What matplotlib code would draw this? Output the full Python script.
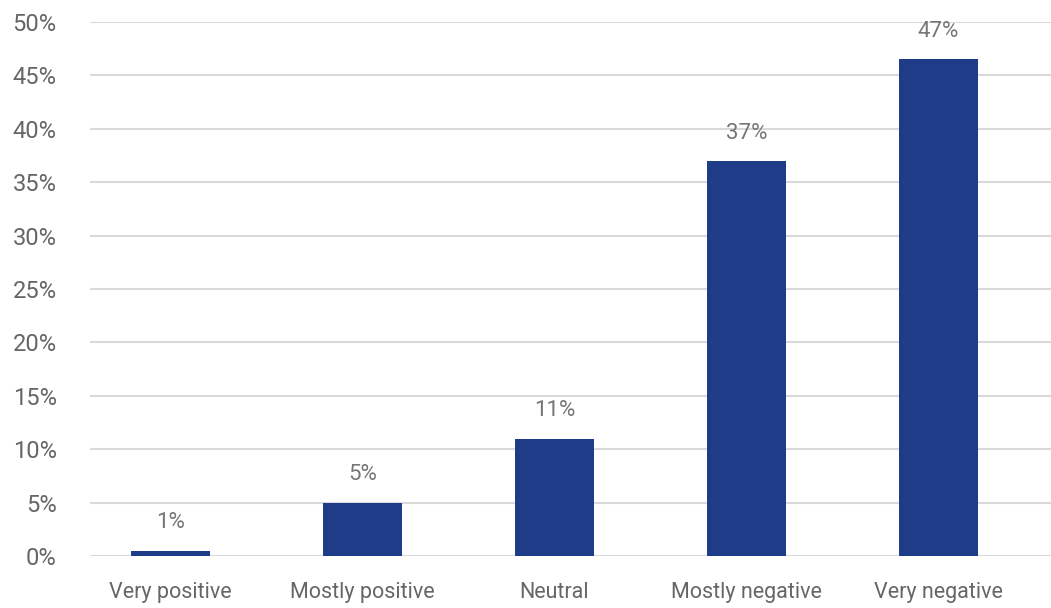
import matplotlib
matplotlib.use("Agg")
import matplotlib.pyplot as plt
from matplotlib.ticker import FuncFormatter

# values
categories = ["Very positive", "Mostly positive", "Neutral", "Mostly negative", "Very negative"]
values = [0.5, 5.0, 11.0, 37.0, 46.5]
value_labels = ["1%", "5%", "11%", "37%", "47%"]
y_ticks = [0, 5, 10, 15, 20, 25, 30, 35, 40, 45, 50]

BAR_COLOR = "#1f3c88"
TEXT_COLOR = "#666666"
LABEL_COLOR = "#767676"
GRID_COLOR = "#d9d9d9"

plt.rcParams["font.family"] = ["Roboto", "DejaVu Sans"]

fig = plt.figure(figsize=(10.51, 6.08), dpi=100)
ax = fig.add_axes([90 / 1051, 52 / 608, 961 / 1051, 534 / 608])

x = list(range(len(categories)))
bars = ax.bar(x, values, width=0.41, color=BAR_COLOR, zorder=3)

for b, lab in zip(bars, value_labels):
    ax.annotate(lab, (b.get_x() + b.get_width() / 2, b.get_height()),
                xytext=(0, 16), textcoords="offset points",
                ha="center", va="baseline", fontsize=16, color=LABEL_COLOR)

ax.set_ylim(0, 50)
ax.set_xlim(-0.419, 4.586)
ax.set_yticks(y_ticks)
ax.yaxis.set_major_formatter(FuncFormatter(lambda v, p: f"{v:.0f}%"))
ax.set_xticks(x)
ax.set_xticklabels(categories)

ax.grid(axis="y", color=GRID_COLOR, linewidth=1.5, zorder=0)
ax.tick_params(axis="y", length=0, pad=24, labelsize=17, labelcolor=TEXT_COLOR)
ax.tick_params(axis="x", length=0, pad=19, labelsize=15.5, labelcolor=TEXT_COLOR)
for s in ax.spines.values():
    s.set_visible(False)

fig.savefig("out.png", dpi=100)
